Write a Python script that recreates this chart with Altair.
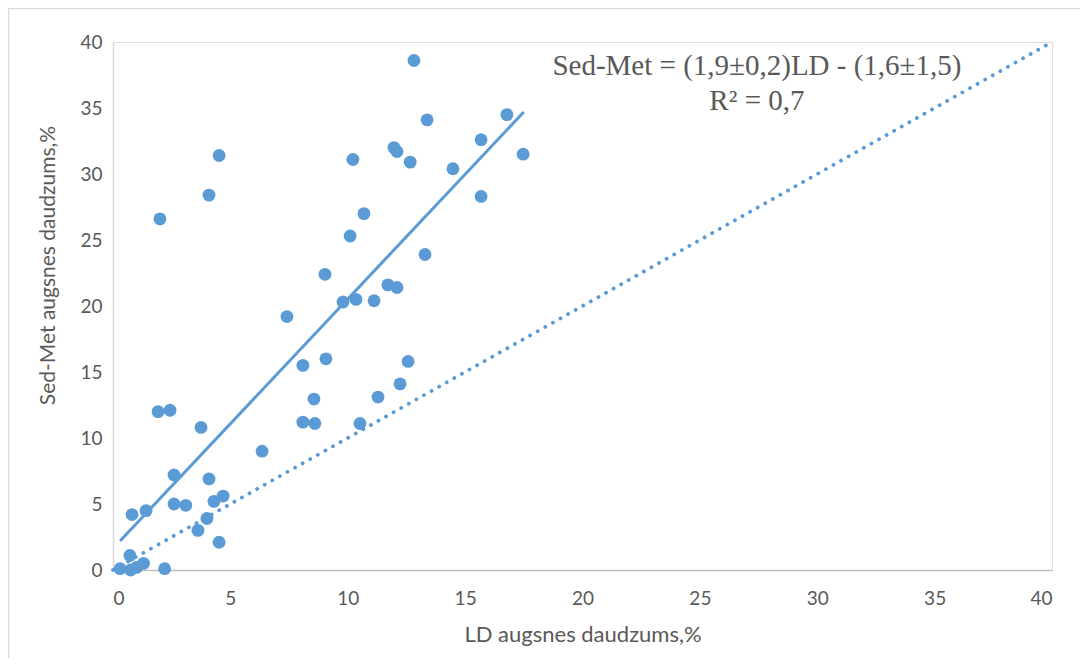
import altair as alt
import pandas as pd

# Scatter data
ld = [12.82, 16.78, 13.38, 4.52, 15.68, 17.47, 10.22, 11.97, 12.10, 12.66,
      14.48, 4.09, 15.68, 2.00, 10.69, 10.10, 13.29, 9.03, 11.71, 12.10,
      9.80, 10.35, 11.12, 7.41, 8.09, 9.07, 12.57, 12.23, 11.29, 8.56,
      1.92, 2.43, 3.75, 8.09, 8.60, 10.52, 6.35, 2.60, 4.09, 2.60,
      3.10, 4.69, 4.30, 0.81, 1.41, 4.00, 3.62, 4.52, 2.20, 0.30,
      0.72, 0.75, 1.00, 1.30]
sedmet = [38.6, 34.5, 34.1, 31.4, 32.6, 31.5, 31.1, 32.0, 31.7, 30.9,
          30.4, 28.4, 28.3, 26.6, 27.0, 25.3, 23.9, 22.4, 21.6, 21.4,
          20.3, 20.5, 20.4, 19.2, 15.5, 16.0, 15.8, 14.1, 13.1, 12.95,
          12.0, 12.1, 10.8, 11.2, 11.1, 11.1, 9.0, 7.2, 6.9, 5.0,
          4.9, 5.6, 5.2, 4.2, 4.5, 3.9, 3.0, 2.1, 0.1, 0.1,
          1.1, 0.0, 0.2, 0.5]

# Trend line endpoints
fit_x = [0.3, 17.5]
fit_y = [2.2, 34.7]

# 1:1 reference line
ref_x = [0, 40]
ref_y = [0, 40]

# Annotation (first line is placed at eq_y, second below it)
eq_lines = ["Sed-Met = (1,9±0,2)LD - (1,6±1,5)", "R² = 0,7"]
eq_x = [27.43]
eq_y = [38.2]

BLUE = "#5B9BD5"
GRAY = "#595959"

pts = pd.DataFrame({"ld": ld, "sm": sedmet})
fit = pd.DataFrame({"ld": fit_x, "sm": fit_y})
ref = pd.DataFrame({"ld": ref_x, "sm": ref_y})
ann = pd.DataFrame({"ld": eq_x, "sm": eq_y, "t": [eq_lines]})

xs = alt.Scale(domain=[0, 40], nice=False, zero=True)
ys = alt.Scale(domain=[0, 40], nice=False, zero=True)

xaxis = alt.Axis(values=list(range(0, 41, 5)), title="LD augsnes daudzums,%",
                 grid=False, ticks=False, domainColor="#BFBFBF", domainWidth=1.5,
                 labelFont="Lato", labelFontSize=19, labelColor=GRAY, labelPadding=19,
                 titleFont="Lato", titleFontSize=22, titleFontWeight="normal",
                 titleColor=GRAY, titlePadding=16)
yaxis = alt.Axis(values=list(range(0, 41, 5)), title="Sed-Met augsnes daudzums,%",
                 grid=False, ticks=False, domainColor="#D9D9D9", domainWidth=1.5,
                 labelFont="Lato", labelFontSize=19, labelColor=GRAY, labelPadding=11,
                 titleFont="Lato", titleFontSize=21, titleFontWeight="normal",
                 titleColor=GRAY, titlePadding=21, titleY=223, titleAlign="center")

frame = alt.Chart(pd.DataFrame({"a": [0]})).mark_rect(
    fill=None, stroke="#D9D9D9", strokeWidth=1.5
).encode(x=alt.value(-104.5), x2=alt.value(1100), y=alt.value(-33.5), y2=alt.value(720))

ref_line = alt.Chart(ref).mark_line(
    color=BLUE, strokeWidth=3.8, strokeDash=[0.1, 8.6], strokeCap="round"
).encode(
    x=alt.X("ld:Q", scale=xs, axis=xaxis),
    y=alt.Y("sm:Q", scale=ys, axis=yaxis),
)

fit_line = alt.Chart(fit).mark_line(color=BLUE, strokeWidth=3).encode(
    x=alt.X("ld:Q", scale=xs), y=alt.Y("sm:Q", scale=ys)
)

points = alt.Chart(pts).mark_circle(color=BLUE, opacity=1, size=165).encode(
    x=alt.X("ld:Q", scale=xs), y=alt.Y("sm:Q", scale=ys)
)

text = alt.Chart(ann).mark_text(
    font="Liberation Serif", fontSize=29, color=GRAY, align="center",
    baseline="middle", lineHeight=35
).encode(x=alt.X("ld:Q", scale=xs), y=alt.Y("sm:Q", scale=ys), text="t")

chart = alt.layer(frame, ref_line, fit_line, points, text).properties(
    width=939, height=528,
    autosize=alt.AutoSizeParams(type="none"),
    padding={"left": 105, "top": 34, "right": 28, "bottom": 88},
).configure_view(stroke=None).configure(background="white")

chart.save("out.html", embed_options={"renderer": "svg", "actions": False})
